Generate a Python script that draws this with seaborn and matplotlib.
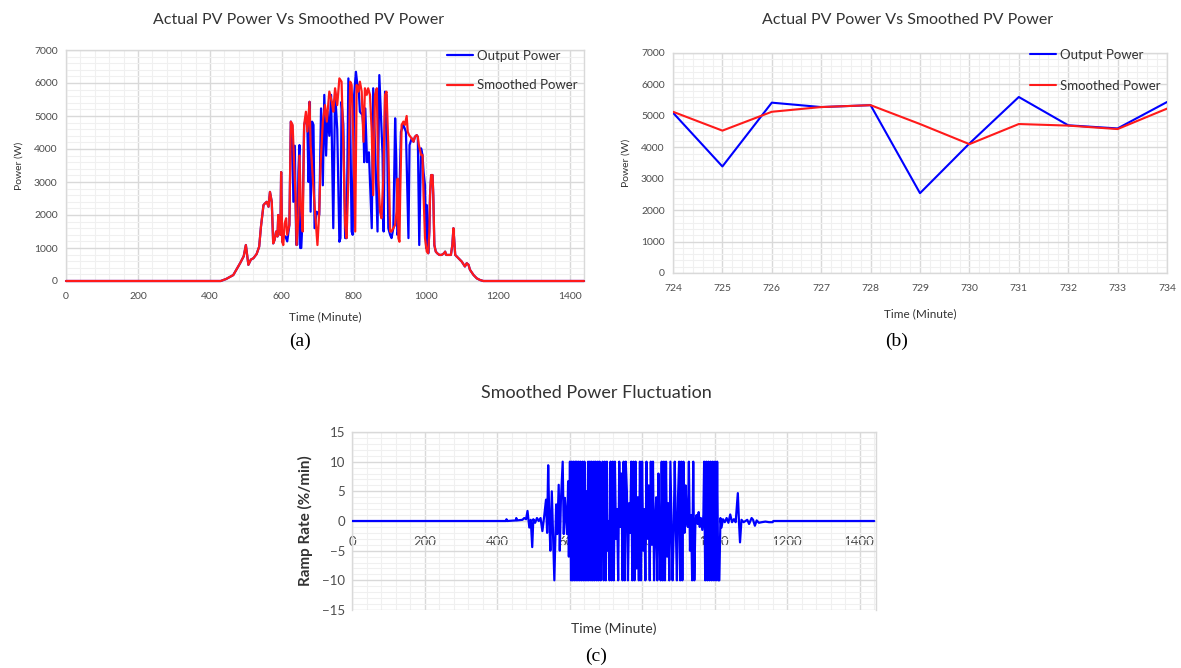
import numpy as np
import pandas as pd
import matplotlib
matplotlib.use("Agg")
import matplotlib.pyplot as plt
from matplotlib.ticker import MultipleLocator
import seaborn as sns

# ---------------- DATA ----------------
# (a) full day, shared ramp-up / ramp-down parts (both series identical there)
rampup_t = [0, 430, 445, 465, 484, 494, 500, 507, 514, 521, 530, 537, 542, 549, 553, 558,
            563, 567, 572, 576, 580, 584, 588, 590, 593, 596, 598]
rampup_p = [0, 0, 60, 180, 540, 750, 1090, 490, 650, 690, 820, 1040, 1650, 2300, 2350, 2400,
            2250, 2700, 2400, 1140, 1250, 1500, 1350, 2000, 1600, 1400, 3300]

smooth_mid_t = [601, 604, 608, 612, 615, 621, 625, 630, 634, 638, 641, 646, 649, 653, 658, 662,
                667, 671, 677, 680, 686, 691, 699, 704, 708, 714, 720, 725, 732, 739, 743, 748,
                754, 760, 766, 771, 776, 780, 785, 790, 794, 799, 804, 808, 813, 817, 822, 827,
                831, 836, 840, 845, 850, 854, 859, 864, 868, 873, 877, 882, 887, 891, 896, 901,
                905, 910, 915, 919, 922, 924, 927, 929, 933, 938, 942, 947, 950, 954, 961, 966,
                970, 975, 978, 981, 987, 991, 994, 998, 1003]
smooth_mid_p = [1190, 1090, 1750, 1900, 1400, 1700, 4830, 4730, 3600, 2600, 1090, 1900, 3800, 2300, 1500, 4730,
                5130, 4530, 5430, 4120, 3100, 2300, 1090, 2100, 3600, 4830, 5330, 4830, 5740, 5430, 5130, 5840,
                5330, 6140, 6040, 4120, 1700, 1300, 3100, 6040, 5940, 4120, 1500, 5940, 5740, 6040, 5740, 4220,
                5840, 5640, 5840, 5640, 4520, 2600, 5640, 5840, 3100, 2100, 1900, 3100, 5640, 5740, 4120, 1500,
                1500, 1600, 1700, 2100, 3100, 1300, 1190, 2600, 4730, 4830, 4730, 5000, 4520, 4420, 4320, 4220,
                4370, 4420, 4370, 4120, 3820, 3820, 2600, 1300, 890]

output_mid_t = [601, 604, 610, 615, 621, 625, 629, 632, 636, 640, 643, 646, 649, 651, 654, 658,
                662, 667, 671, 674, 677, 680, 684, 688, 691, 697, 704, 709, 714, 718, 723, 727,
                732, 737, 743, 748, 754, 760, 763, 766, 771, 776, 780, 785, 790, 794, 797, 801,
                806, 810, 813, 817, 824, 827, 829, 832, 837, 842, 850, 854, 859, 866, 871, 875,
                880, 883, 887, 891, 896, 901, 905, 910, 915, 918, 921, 924, 927, 931, 938, 945,
                952, 955, 961, 966, 970, 975, 978, 982, 987, 991, 994, 998, 1001, 1003]
output_mid_p = [1190, 1350, 1350, 1200, 1700, 4830, 4700, 2400, 4100, 1100, 1100, 3300, 4120, 1000, 1000, 2000,
                4730, 4930, 4700, 3000, 5430, 2100, 4830, 4730, 1600, 2100, 2000, 5230, 2900, 5640, 3800, 5130,
                4400, 5640, 1600, 5740, 4600, 1190, 1300, 5430, 4730, 1300, 1300, 6140, 5000, 1500, 1400, 5640,
                6340, 5940, 5940, 5130, 5030, 4600, 3600, 5230, 3600, 3900, 1600, 5840, 4120, 1500, 6240, 5130,
                3820, 1500, 5740, 5640, 1600, 1400, 1300, 1600, 4930, 3700, 1400, 1500, 2700, 4520, 4730, 4520,
                1300, 4120, 4320, 4220, 4370, 4420, 4370, 1090, 4020, 3820, 3300, 2900, 1000, 2300]

rampdown_t = [1007, 1010, 1012, 1015, 1019, 1021, 1024, 1028, 1032, 1038, 1044, 1051, 1054, 1057, 1063,
              1070, 1074, 1077, 1080, 1082, 1091, 1100, 1109, 1114, 1119, 1123, 1133, 1142, 1151, 1160, 1440]
rampdown_p = [840, 1500, 2600, 3210, 3210, 2600, 1090, 890, 840, 790, 790, 840, 890, 790, 790,
              790, 1090, 1600, 1090, 790, 690, 590, 440, 540, 490, 340, 180, 80, 30, 0, 0]

# (b) zoom 724-734 min
zoom_t = [724, 725, 726, 727, 728, 729, 730, 731, 732, 733, 734]
zoom_output = [5100, 3390, 5420, 5280, 5340, 2540, 4120, 5600, 4700, 4600, 5440]
zoom_smooth = [5130, 4530, 5130, 5280, 5340, 4740, 4100, 4740, 4690, 4580, 5230]

# (c) ramp rate (%/min)
ramp_t = [0, 425, 426, 428, 452, 453, 455, 470, 475, 480, 484, 489, 493, 497, 500, 505, 510, 515, 520,
          525, 530, 535, 538, 541, 544, 547, 551, 554, 558, 563, 566, 570, 573, 576, 581, 584, 587, 590,
          593, 596, 598, 601, 604, 606, 608, 611, 613, 616, 618, 620, 623, 625, 628, 630, 633, 636, 638,
          641, 643, 646, 648, 651, 653, 656, 659, 661, 664, 667, 669, 672, 675, 678, 680, 683, 686, 688,
          691, 694, 697, 700, 703, 705, 708, 710, 713, 716, 719, 722, 725, 728, 731, 734, 737, 740, 743,
          746, 749, 752, 755, 758, 761, 764, 767, 770, 773, 776, 779, 782, 785, 788, 791, 794, 797, 800,
          803, 806, 809, 812, 815, 818, 821, 824, 827, 830, 833, 836, 839, 842, 845, 848, 851, 854, 857,
          860, 863, 866, 869, 872, 875, 878, 881, 884, 887, 890, 893, 896, 899, 902, 905, 908, 911, 914,
          917, 920, 923, 926, 929, 932, 935, 938, 941, 944, 947, 950, 953, 956, 959, 962, 966, 969, 971,
          974, 977, 980, 983, 986, 989, 992, 995, 998, 1001, 1004, 1007, 1010, 1013, 1016, 1019, 1023,
          1028, 1033, 1038, 1043, 1048, 1053, 1058, 1064, 1067, 1070, 1074, 1080, 1090, 1095, 1102, 1106,
          1111, 1116, 1122, 1130, 1140, 1150, 1160, 1162, 1440]
ramp_r = [0, 0, 0.3, 0, 0.1, 0.5, 0.1, 0.2, 0.5, 0.3, 1.7, -1.1, 0.2, -4.4, 0.3, -0.3, 0.5, 0, 0.5,
          -1.7, 0.8, 3.6, -2.0, 9.4, 0.5, -5, 5, -1.5, -10, 2.8, -2.2, 6.1, -5, 3.3, 10, -2.2, 3.9, 1,
          -2.2, 6.7, -6, 10, -10, 10, -10, 10, -10, 10, -10, 10, -10, 10, -10, 10, -10, 10, -10,
          10, -10, 5, -10, 10, -10, 10, -10, 10, -10, 10, -10, 10, -10, 10, -10, 10, -10, 3,
          10, -10, 10, -10, 10, -5, 0, -10, 10, -10, 10, -10, 10, -3, 2, -10, 10, -1, 8,
          -10, 10, -10, 10, 5, -10, 3, -2, 10, -10, 10, -10, 10, -8, 4, -10, 10, -10, 10,
          -5, 2, -10, 10, -3, 6, -10, 10, -4, 10, -10, 0, 4, -10, 8, -2, -10, 10, -10,
          10, -10, 10, -6, 3, -10, 10, 0, -10, -2, 10, -1, -10, 4, 10, -10, 10, -10, 10,
          -2, 6, 0, -1, 10, -5, 1, -10, 10, -10, 0, 1, -0.5, 1.5, -1, 0.5, -1.5, 1, 10,
          -10, 10, -10, 10, -10, 10, -10, 10, -10, 10, -10, 10, -10, -10, 0.5, -1.1, 0.3,
          -0.2, 0.5, -0.3, 1.1, -0.2, 0.3, -0.2, 4.7, 0, -3.6, 0.2, -0.2, 0.2, -0.5, 0.5, 0.2,
          -0.8, 0.1, -0.3, -0.2, -0.1, -0.2, -0.2, 0, 0]

x_ticks_day = [0, 200, 400, 600, 800, 1000, 1200, 1400]

# ---------------- STYLE ----------------
sns.set_style("white")
plt.rcParams['font.family'] = ['Lato', 'DejaVu Sans']

BLUE = "#0000FF"
RED = "#FF1A1A"
TICK_C = "#4D4D4D"
TEXT_C = "#333333"
MAJ_C = "#D9D9D9"
MIN_C = "#F0F0F0"

W, H = 1181, 668
fig = plt.figure(figsize=(W / 100, H / 100), dpi=100)


def rect(l, t, r, b):
    return [l / W, 1 - b / H, (r - l) / W, (b - t) / H]


def style_axes(ax, xmaj, xmin, ymaj, ymin, tsize):
    ax.set_axisbelow(True)
    ax.xaxis.set_major_locator(MultipleLocator(xmaj))
    ax.xaxis.set_minor_locator(MultipleLocator(xmin))
    ax.yaxis.set_major_locator(MultipleLocator(ymaj))
    ax.yaxis.set_minor_locator(MultipleLocator(ymin))
    ax.grid(which='minor', color=MIN_C, lw=0.8)
    ax.grid(which='major', color=MAJ_C, lw=1.0)
    ax.tick_params(which='both', length=0, labelsize=tsize, colors=TICK_C)
    for s in ax.spines.values():
        s.set_color(MAJ_C)
        s.set_linewidth(1.0)
        s.set_zorder(0.6)


def fig_text(x, y, s, **kw):
    fig.text(x / W, 1 - y / H, s, ha='center', va='center', **kw)


# ---------------- (a) ----------------
df_out = pd.DataFrame({"t": rampup_t + output_mid_t + rampdown_t,
                       "p": rampup_p + output_mid_p + rampdown_p})
df_smo = pd.DataFrame({"t": rampup_t + smooth_mid_t + rampdown_t,
                       "p": rampup_p + smooth_mid_p + rampdown_p})

axa = fig.add_axes(rect(66, 50, 584, 281))
sns.lineplot(data=df_out, x="t", y="p", ax=axa, color=BLUE, lw=1.6, estimator=None,
             sort=False, label="Output Power", clip_on=False)
sns.lineplot(data=df_smo, x="t", y="p", ax=axa, color=RED, lw=1.6, estimator=None,
             sort=False, label="Smoothed Power", clip_on=False)
axa.set_xlim(0, 1440)
axa.set_ylim(0, 7000)
style_axes(axa, 200, 40, 1000, 200, 7.5)
axa.set_xticks(x_ticks_day)
axa.tick_params(axis='x', pad=8)
axa.tick_params(axis='y', pad=6)
axa.set_xlabel("Time (Minute)", fontsize=8.5, color=TEXT_C)
axa.set_ylabel("Power (W)", fontsize=7.5, color=TEXT_C)
axa.xaxis.set_label_coords(0.5, -0.13)
axa.yaxis.set_label_coords(-0.082, 0.5)
axa.legend(loc='upper right', bbox_to_anchor=(1.0, 1.03), frameon=False, fontsize=9.5,
           handlelength=2.0, handletextpad=0.3, labelspacing=1.35, borderaxespad=0.1,
           labelcolor=TEXT_C)
fig_text(299, 20, "Actual PV Power Vs Smoothed PV Power", fontsize=11.5, color=TEXT_C)
fig_text(300, 341, "(a)", fontsize=14, family='Liberation Serif', color='black')

# ---------------- (b) ----------------
df_b = pd.DataFrame({"t": zoom_t, "out": zoom_output, "smo": zoom_smooth})
axb = fig.add_axes(rect(673, 53, 1167, 273))
sns.lineplot(data=df_b, x="t", y="out", ax=axb, color=BLUE, lw=1.5, label="Output Power")
sns.lineplot(data=df_b, x="t", y="smo", ax=axb, color=RED, lw=1.5, label="Smoothed Power")
axb.set_xlim(724, 734)
axb.set_ylim(0, 7000)
style_axes(axb, 1, 0.2, 1000, 200, 7.5)
axb.tick_params(axis='x', pad=8)
axb.tick_params(axis='y', pad=6)
axb.set_xlabel("Time (Minute)", fontsize=8.5, color=TEXT_C)
axb.set_ylabel("Power (W)", fontsize=7.5, color=TEXT_C)
axb.xaxis.set_label_coords(0.5, -0.16)
axb.yaxis.set_label_coords(-0.085, 0.5)
axb.legend(loc='upper right', bbox_to_anchor=(1.0, 1.05), frameon=False, fontsize=9.5,
           handlelength=2.0, handletextpad=0.3, labelspacing=1.45, borderaxespad=0.1,
           labelcolor=TEXT_C)
fig_text(908, 20, "Actual PV Power Vs Smoothed PV Power", fontsize=11.5, color=TEXT_C)
fig_text(897, 341, "(b)", fontsize=14, family='Liberation Serif', color='black')

# ---------------- (c) ----------------
df_c = pd.DataFrame({"t": ramp_t, "r": ramp_r})
axc = fig.add_axes(rect(352, 432, 876, 610))
sns.lineplot(data=df_c, x="t", y="r", ax=axc, color=BLUE, lw=1.6, estimator=None, sort=False)
axc.set_xlim(0, 1445)
axc.set_ylim(-15, 15)
style_axes(axc, 200, 40, 5, 1, 9.5)
axc.set_xticks(x_ticks_day)
axc.spines['bottom'].set_position(('data', 0))
axc.spines['bottom'].set_color(MAJ_C)
axc.tick_params(axis='x', pad=11)
axc.tick_params(axis='y', pad=5)
axc.set_xlabel("Time (Minute)", fontsize=10, color=TEXT_C)
axc.set_ylabel("Ramp Rate (%/min)", fontsize=11, color=TEXT_C, fontweight='bold')
axc.xaxis.set_label_coords(0.5, -0.07)
axc.yaxis.set_label_coords(-0.075, 0.5)
fig_text(596, 393, "Smoothed Power Fluctuation", fontsize=13, color=TEXT_C)
fig_text(596, 656, "(c)", fontsize=14, family='Liberation Serif', color='black')

fig.savefig("out.png", dpi=100)
